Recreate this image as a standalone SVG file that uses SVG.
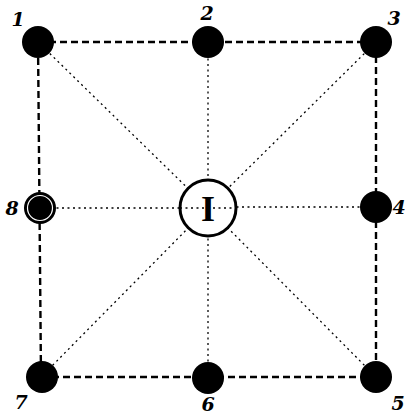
<svg xmlns="http://www.w3.org/2000/svg" width="405" height="415" viewBox="0 0 405 415">
<style>
.dash{stroke:#000;stroke-width:2.4;stroke-dasharray:7 4;fill:none}
.dot{stroke:#000;stroke-width:1.3;stroke-dasharray:2 3.5;fill:none}
.n{fill:#000}
.lbl{font-family:"DejaVu Serif","Liberation Serif",serif;font-weight:bold;font-style:italic;font-size:19px;text-anchor:middle}
</style>
<rect width="405" height="415" fill="#fff"/>
<g id="connectors">
<path class="dash" d="M38 42 H376 V377 H41 Z"/>
<path class="dot" d="M38 42 L208 208 M208 42 L208 208 M376 42 L208 208 M376 207 L208 207 M376 377 L208 208 M208 378 L208 208 M41 377 L208 208 M40 208 L208 208"/>
</g>
<g id="n1"><circle class="n" cx="38" cy="42" r="16"/><text class="lbl" x="18" y="26">1</text></g>
<g id="n2"><circle class="n" cx="208" cy="42" r="16"/><text class="lbl" x="207" y="20">2</text></g>
<g id="n3"><circle class="n" cx="376" cy="42" r="16"/><text class="lbl" x="394" y="25">3</text></g>
<g id="n4"><circle class="n" cx="376" cy="207" r="16"/><text class="lbl" x="399" y="214" font-size="17">4</text></g>
<g id="n5"><circle class="n" cx="376" cy="377" r="16"/><text class="lbl" x="398" y="410">5</text></g>
<g id="n6"><circle class="n" cx="208" cy="378" r="16"/><text class="lbl" x="208" y="411">6</text></g>
<g id="n7"><circle class="n" cx="42" cy="377" r="16"/><text class="lbl" x="21" y="409">7</text></g>
<g id="n8"><circle class="n" cx="40" cy="208" r="16"/><circle cx="40" cy="208" r="12.5" fill="none" stroke="#fff" stroke-width="1.2"/><text class="lbl" x="12" y="215">8</text></g>
<g id="center"><circle cx="208" cy="208" r="28" fill="#fff" stroke="#000" stroke-width="3"/><path class="dot" d="M180 208 H236"/><text x="208" y="221" font-family="Liberation Serif,serif" font-weight="bold" font-size="36" text-anchor="middle">I</text></g>
</svg>
